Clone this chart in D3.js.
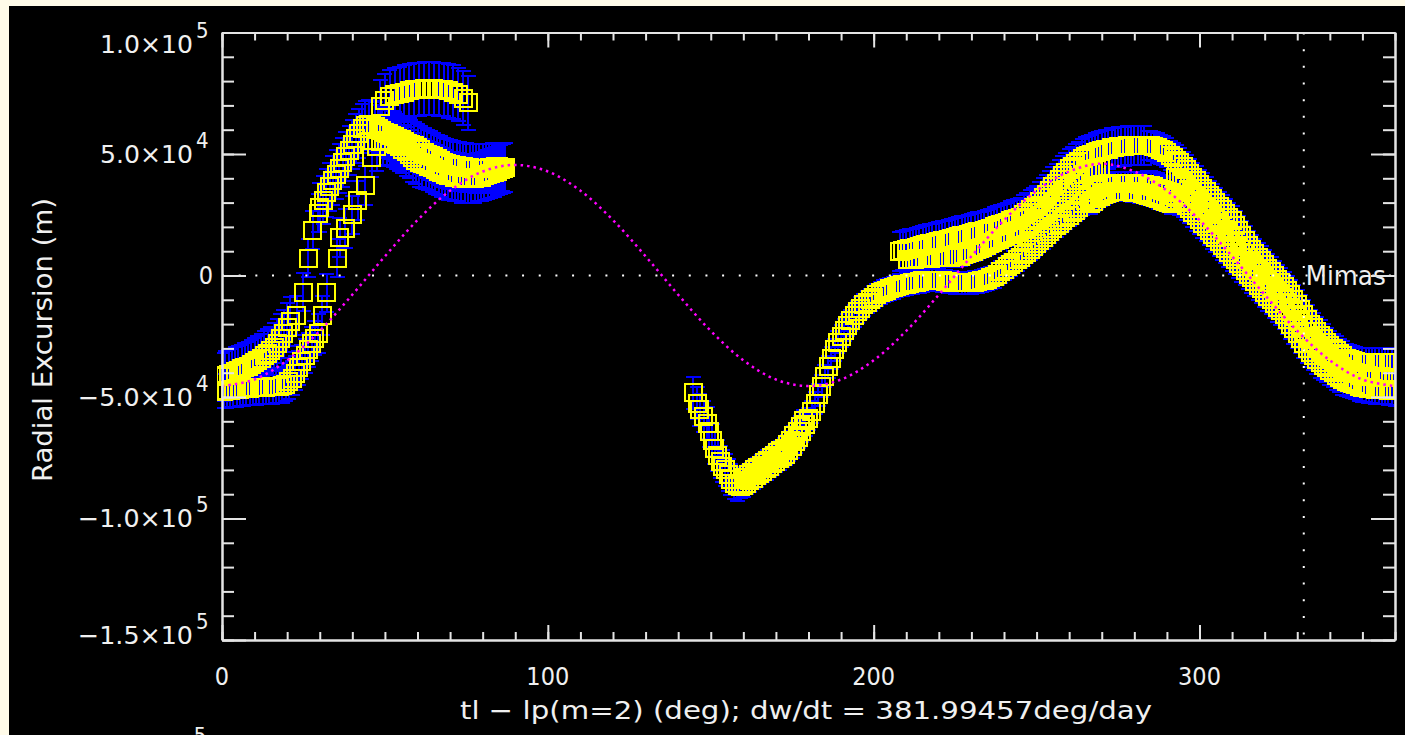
<!DOCTYPE html>
<html>
<head>
<meta charset="utf-8">
<script src="https://cdn.jsdelivr.net/npm/d3@7"></script>
<style>
html, body { margin: 0; padding: 0; background: #fffbe9; }
svg { display: block; }
text { font-family: "Liberation Sans Narrow", "DejaVu Sans Condensed", "Liberation Sans", sans-serif; fill: #f0f0f0; }
</style>
</head>
<body>
<script>
// values in km, degrees

// left part, low band
var lowUpperStart = 0, lowUpperErr = 10;
var lowUpper = [-41.7,-41.2,-40.7,-40.2,-39.6,-39,-38.4,-37.8,-37.3,-36.6,-35.8,-35,-34,-33,-32,-31,-29.5,-28,-26,-24,-21.5,-19];
var lowLowerStart = 0.5, lowLowerErr = 7;
var lowLower = [-47.7,-47.5,-47.3,-47.1,-47,-46.8,-46.6,-46.4,-46.3,-46.2,-46.1,-46,-46,-45.9,-45.8,-45.7,-45.6,-45.5,-45.3,-44.8,-43.8,-42.3,-40.3,-38,-35.5,-33,-30.5,-28,-25.8];

// the two steep branches (single squares)
var leftColumnErr = 8;
var leftColumn = [[23,-16.3],[24.9,-6.8],[26.4,7.2],[27.9,18.7],[29.5,25.7]];
var rightColumnErr = 8;
var rightColumn = [[29.5,-23.7],[30.7,-16.3],[32.2,-7.2],[35.3,7.2],[36.2,15.8],[37.8,19.5],[39.9,24.9],[41.7,31],[43.9,37],[46,48.4]];

// main hump after the rise
var mainUpperStart = 30, mainUpperErr = 10;
var mainUpper = [28,31,34,36.5,39,41.5,44,46.5,49,51.5,54,56.5,58.5,60.5,61.8,62.2,62,61.3,60.3,59.5,59,58.3,57.8,57.2,56.5,55.8,55,54.5,54,53.3,52.5,51.7,50.8,50,49.5,48.8,48,47.3,46.6,46.1,45.7,45.4,45.1,44.9,44.7,44.5,44.3,44.2,44.1,44,44,44.1,44.3,44.5,44.7,44.7,44.6,44.4];
var mainLowerStart = 47.5, mainLowerErr = 10;
var mainLower = [53,55,55.5,55.5,55,54.5,54,53,52,51,50,48.5,47.5,46.5,46,45.5,45,44.5,43.5,43,42.5,41.5,41,41,40.5,40.5,40,40,40,40,40,40.5,40.5,41,41.5,42,42.5,43,43.5,44];

// upper arc of squares
var upperArcErr = 11;
var upperArc = [[48.5,69.5],[50,72],[51.5,73.5],[53,74.5],[54.5,75],[56,75.5],[57.5,76],[59,76.5],[60.5,76.5],[62,77],[63.5,77],[65,77],[66.5,76.5],[68,76.5],[69.5,76],[71,75.5],[72.5,74.5],[74,73],[75.5,71]];

// the V near 150-190 deg
var vDownErr = 6.5;
var vDown = [[144.6,-48.3],[145.8,-52.5],[146.7,-55.3],[147.8,-58],[148.9,-60.7],[149.6,-64],[150.4,-67.7],[151.3,-71],[152.1,-74],[152.9,-76.7],[153.6,-78.5],[154.4,-80],[155.3,-82],[156.2,-84],[157.2,-85.5],[158.2,-86.5]];
var vUp2Start = 160.5, vUp2Err = 4;
var vUp2 = [-83,-82,-81,-80,-79,-78,-77,-76,-75,-74,-73,-72,-71,-69.5,-68,-66,-64,-62,-59.5];

// lower track 159 -> 360 deg
var lowerErr = 4.5;
var riseStart = 159;
var riseVals = [-87,-86.5,-85.5,-84.5,-83.5,-82.5,-81.5,-80.5,-79.5,-78.5,-77.5,-76.5,-75.5,-74.5,-73.5,-72,-70.5,-68.5,-66.5,-64,-61.5,-59,-56,-52.5,-49,-45.5,-41.5,-37.5,-34,-30.5,-27.5,-25,-22.5,-20.5,-18.5,-16.5,-15,-13.5,-12,-11,-10,-9,-8,-7.2,-6.5,-6,-5.5,-5,-4.5];
var flatStart = 208;
var flatVals = [-4,-3.8,-3.5,-3.2,-3,-2.8,-2.5,-2.2,-2,-2,-2,-2,-2,-2.2,-2.4,-2.6,-2.8,-3,-3,-3,-3,-3,-3,-2.8,-2.5,-2.2,-2,-1.5,-1,-0.5,0.5,1.5,2.5,3.5,4.5,5.5,6.5,7.5];
var climbStart = 246;
var climbVals = [8.5,9.5,10.8,12,13.2,14.4,15.5,16.8,18,19.2,20.4,21.5,22.7,23.8,24.8,25.8,26.8,28,29.5,31,32.5,34,35.3,36.3,37,37.5,37.8,38,38,38,38,38,38,38,38,38,37.5,37.5];
var fallStart = 284, fallErr = 6;
var fallVals = [37,37,36.5,36,35.5,35,34.5,34,33,32,31,30,29,27.5,26,24.5,23,21.5,20,18.5,17,15.5,14,12.5,11,9.5,8,6.5,5,3.5,2,0.5,-1,-2.5,-4,-5.5,-7,-8.5,-10,-11.5,-13,-14.5,-16,-18,-20,-22,-24,-26,-28,-30,-31.5,-33,-34.5,-36,-37,-38,-39,-40,-41,-42,-43,-43.5,-44,-44.5,-45,-45.5,-46,-46,-46.5,-46.5,-47,-47,-47,-47,-47.2,-47.4,-47.5];
var plateauLowStart = 266.5, plateauLowErr = 4;
var plateauLow = [29.5,30.5,31.5,32.5,33.2,33.8,34.2,34.5,34.5,34.5,34.5,34.5,34.5,34.3,34.2,34,33.8,33.5,33,32.5,32,31.5,31,30.5,30,29.5];

// upper track 208 -> 360 deg
var upperStart = 208, upperErr = 8;
var upperVals = [10,10.3,10.6,11,11.3,11.6,12,12.3,12.6,13,13.3,13.6,14,14.3,14.6,15,15.3,15.6,16,16.3,16.6,17,17.3,17.6,18,18.3,18.6,19,19.5,20,20.5,21,21.5,22,22.5,23,23.5,24,25,26,27,28,29,30.5,32,33.5,35,36.5,38,39.5,41,42.5,44,45,46,47,48,49,49.5,50,50.5,51,51.5,52,52,52.5,52.5,53,53,53,53.5,53.5,53.5,53.5,53.5,53.5];
var upperLowStart = 210.5, upperLowErr = 4;
var upperLow = [6.5,6.6,6.7,6.8,6.9,7,7.1,7.2,7.3,7.4,7.5,7.5,7.6,7.6,7.7,7.8,8,8.5,9,9.5,10,10.5,11,11.5,12.3,13,13.7,14.4,15,15.6,16.2,16.8,17.4,18,18.6,19.2,19.8,20.5,21.5,22.5,23.5,24.7,26,27.3,28.6,30,31.3,32.6,34,35.3,36.6,38,39.3,40.5,41.5,42.5,43.2,43.8,44.2,44.5];
var topFallStart = 284, topFallErr = 6;
var topFallVals = [53.5,53.5,53,52.5,52,51.3,50.5,49.5,48.5,47.5,46.5,45,43.5,42,40.5,39,37.5,36,34.5,33,31.5,30,28.5,27,25.5,24,22.5,20.5,18.5,16.5,14.5,12.5,10.5,9,7.5,6,4.5,3,1.5,0,-1.5,-3,-4.5,-6,-8,-10,-12,-14,-16,-18,-20,-21.5,-23,-24.5,-26,-27.5,-29,-30,-31,-32,-33,-34,-34.5,-35,-35.5,-36,-36,-36,-36,-36,-36,-36,-36,-36,-36,-36,-36];
var midFallStart = 292.5, midFallErr = 4;
var midFallVals = [40.5,39.5,38.5,37,35.5,34,32.5,31,29.5,28,26.5,25,23.5,22,20.5,19,17.5,16,14.5,12.5,10.5,9,7.5,6,4.5,3,1.5,0,-1.5,-3,-4.5,-6,-7.5,-9,-11,-13,-15,-17,-19,-21,-23,-25,-26.5,-28,-29.5,-31,-32,-33.5,-34.5,-35.5,-36.5,-37.5,-38.5,-39,-39.5,-40,-40.5,-41,-41,-41.3,-41.5,-41.5,-41.7,-41.7,-41.8,-41.8,-41.8,-41.8];

// m=2 model curve, every 10 deg
var modelDeg = d3.range(0, 361, 10);
var modelVals = [-45.5,-42.8,-34.9,-22.8,-7.9,7.9,22.8,34.9,42.8,45.5,42.8,34.9,22.8,7.9,-7.9,-22.8,-34.9,-42.8,-45.5,-42.8,-34.9,-22.8,-7.9,7.9,22.8,34.9,42.8,46,42.8,34.9,22.8,7.9,-7.9,-22.8,-34.9,-42.8,-45.5];

var xMajor = [0, 100, 200, 300];
var yMajor = [-150000, -100000, -50000, 0, 50000, 100000];
var mimasDeg = 332;

function dense(start, vals, err) {
    return vals.map(function(v, i){ return {deg: start + i, val: v * 1000, err: err * 1000}; });
}
function sparse(pairs, err) {
    return pairs.map(function(p){ return {deg: p[0], val: p[1] * 1000, err: err * 1000}; });
}

var points = [].concat(
    dense(lowUpperStart, lowUpper, lowUpperErr),
    dense(lowLowerStart, lowLower, lowLowerErr),
    sparse(leftColumn, leftColumnErr),
    sparse(rightColumn, rightColumnErr),
    dense(mainUpperStart, mainUpper, mainUpperErr),
    dense(mainLowerStart, mainLower, mainLowerErr),
    sparse(upperArc, upperArcErr),
    sparse(vDown, vDownErr),
    dense(vUp2Start, vUp2, vUp2Err),
    dense(riseStart, riseVals, lowerErr),
    dense(flatStart, flatVals, lowerErr),
    dense(climbStart, climbVals, lowerErr),
    dense(fallStart, fallVals, fallErr),
    dense(plateauLowStart, plateauLow, plateauLowErr),
    dense(upperStart, upperVals, upperErr),
    dense(upperLowStart, upperLow, upperLowErr),
    dense(topFallStart, topFallVals, topFallErr),
    dense(midFallStart, midFallVals, midFallErr)
);

var width = 1405, height = 735;
var svg = d3.select("body").append("svg").attr("width", width).attr("height", height);
svg.append("rect").attr("x", 9).attr("y", 6).attr("width", width - 9).attr("height", height - 6).attr("fill", "#000");

var x = d3.scaleLinear().domain([0, 360]).range([222, 1395]);
var y = d3.scaleLinear().domain([-150000, 100000]).range([640, 32.5]);

svg.append("defs").append("clipPath").attr("id", "plot")
    .append("rect").attr("x", x(0) - 5).attr("y", 0).attr("width", x(360) - x(0) + 5).attr("height", height);

var dataG = svg.append("g").attr("clip-path", "url(#plot)");

// error bars first, squares on top
var capW = 7.5;
var bars = dataG.append("g").attr("stroke", "#0000ff").attr("stroke-width", 2).attr("shape-rendering", "crispEdges");
bars.selectAll("path").data(points).enter().append("path")
    .attr("fill", "none")
    .attr("d", function(d){
        var cx = x(d.deg), top = y(d.val + d.err), bot = y(d.val - d.err);
        return "M" + cx + "," + top + "V" + bot +
               "M" + (cx - capW) + "," + top + "H" + (cx + capW) +
               "M" + (cx - capW) + "," + bot + "H" + (cx + capW);
    });

var half = 8.5;
dataG.append("g").selectAll("rect").data(points).enter().append("rect")
    .attr("x", function(d){ return x(d.deg) - half; })
    .attr("y", function(d){ return y(d.val) - half; })
    .attr("width", half * 2).attr("height", half * 2)
    .attr("fill", "none").attr("stroke", "#ffff00").attr("stroke-width", 2)
    .attr("shape-rendering", "crispEdges");

// dotted reference lines
svg.append("line").attr("x1", x(0)).attr("x2", x(360)).attr("y1", y(0)).attr("y2", y(0))
    .attr("stroke", "#ffffff").attr("stroke-width", 2).attr("stroke-dasharray", "2 14.67");
svg.append("line").attr("x1", x(mimasDeg)).attr("x2", x(mimasDeg)).attr("y1", y(100000)).attr("y2", y(-150000))
    .attr("stroke", "#ffffff").attr("stroke-width", 2).attr("stroke-dasharray", "2 14.67");

// model curve
var line = d3.line()
    .x(function(d, i){ return x(modelDeg[i]); })
    .y(function(d){ return y(d * 1000); })
    .curve(d3.curveCatmullRom);
svg.append("path").attr("d", line(modelVals))
    .attr("fill", "none").attr("stroke", "#ff00ff").attr("stroke-width", 2.5).attr("stroke-dasharray", "2.5 4");

svg.append("text").attr("x", x(mimasDeg) + 2).attr("y", y(0))
    .attr("dominant-baseline", "central").attr("font-size", 26)
    .attr("textLength", 80).attr("lengthAdjust", "spacingAndGlyphs").text("Mimas");

// axes
var axisColor = "#e4e4e4";
function styleAxis(g) {
    g.attr("color", axisColor);
    g.selectAll("path, line").attr("stroke-width", 2);
    g.selectAll("text").remove();
}
var minorX = d3.range(0, 361, 10);
var minorY = d3.range(-150000, 100001, 10000);

svg.append("g").attr("transform", "translate(0," + y(-150000) + ")")
    .call(d3.axisBottom(x).tickValues(minorX).tickSize(-8).tickSizeOuter(0)).call(styleAxis);
svg.append("g").attr("transform", "translate(0," + y(-150000) + ")")
    .call(d3.axisBottom(x).tickValues(xMajor).tickSize(-15).tickSizeOuter(0)).call(styleAxis);
svg.append("g").attr("transform", "translate(0," + y(100000) + ")")
    .call(d3.axisTop(x).tickValues(minorX).tickSize(-8).tickSizeOuter(0)).call(styleAxis);
svg.append("g").attr("transform", "translate(0," + y(100000) + ")")
    .call(d3.axisTop(x).tickValues(xMajor).tickSize(-15).tickSizeOuter(0)).call(styleAxis);
svg.append("g").attr("transform", "translate(" + x(0) + ",0)")
    .call(d3.axisLeft(y).tickValues(minorY).tickSize(-12).tickSizeOuter(0)).call(styleAxis);
svg.append("g").attr("transform", "translate(" + x(0) + ",0)")
    .call(d3.axisLeft(y).tickValues(yMajor).tickSize(-24).tickSizeOuter(0)).call(styleAxis);
svg.append("g").attr("transform", "translate(" + x(360) + ",0)")
    .call(d3.axisRight(y).tickValues(minorY).tickSize(-12).tickSizeOuter(0)).call(styleAxis);
svg.append("g").attr("transform", "translate(" + x(360) + ",0)")
    .call(d3.axisRight(y).tickValues(yMajor).tickSize(-24).tickSizeOuter(0)).call(styleAxis);

// tick labels
svg.selectAll(".xlab").data(xMajor).enter().append("text")
    .attr("x", function(d){ return x(d); }).attr("y", 676)
    .attr("text-anchor", "middle").attr("dominant-baseline", "central")
    .attr("font-size", 25).text(function(d){ return d; });

var ylab = svg.selectAll(".ylab").data(yMajor).enter().append("g");
ylab.each(function(d){
    var g = d3.select(this);
    var cy = Math.min(Math.max(y(d), 44), 635);
    if (d === 0) {
        g.append("text").attr("x", 213).attr("y", cy).attr("text-anchor", "end")
            .attr("dominant-baseline", "central").attr("font-size", 25).text("0");
        return;
    }
    var exp = Math.floor(Math.log10(Math.abs(d)));
    var mant = d / Math.pow(10, exp);
    var s = (mant < 0 ? "\u2212" : "") + Math.abs(mant).toFixed(1) + "\u00d710";
    g.append("text").attr("x", 193).attr("y", cy).attr("text-anchor", "end")
        .attr("dominant-baseline", "central").attr("font-size", 25)
        .attr("textLength", mant < 0 ? 115 : 93).attr("lengthAdjust", "spacingAndGlyphs").text(s);
    g.append("text").attr("x", 196).attr("y", cy - 14).attr("text-anchor", "start")
        .attr("dominant-baseline", "central").attr("font-size", 22).text(exp);
});

// axis titles
svg.append("text").attr("x", 806).attr("y", 719).attr("text-anchor", "middle")
    .attr("font-size", 25).attr("textLength", 692).attr("lengthAdjust", "spacingAndGlyphs")
    .text("tl \u2212 lp(m=2) (deg); dw/dt = 381.99457deg/day");
svg.append("text").attr("transform", "translate(52,340) rotate(-90)").attr("text-anchor", "middle")
    .attr("font-size", 26).attr("textLength", 284).attr("lengthAdjust", "spacingAndGlyphs")
    .text("Radial Excursion (m)");

// cut-off label from the panel below
svg.append("text").attr("x", 200).attr("y", 743).attr("text-anchor", "middle").attr("font-size", 22).text("5");
</script>
</body>
</html>
